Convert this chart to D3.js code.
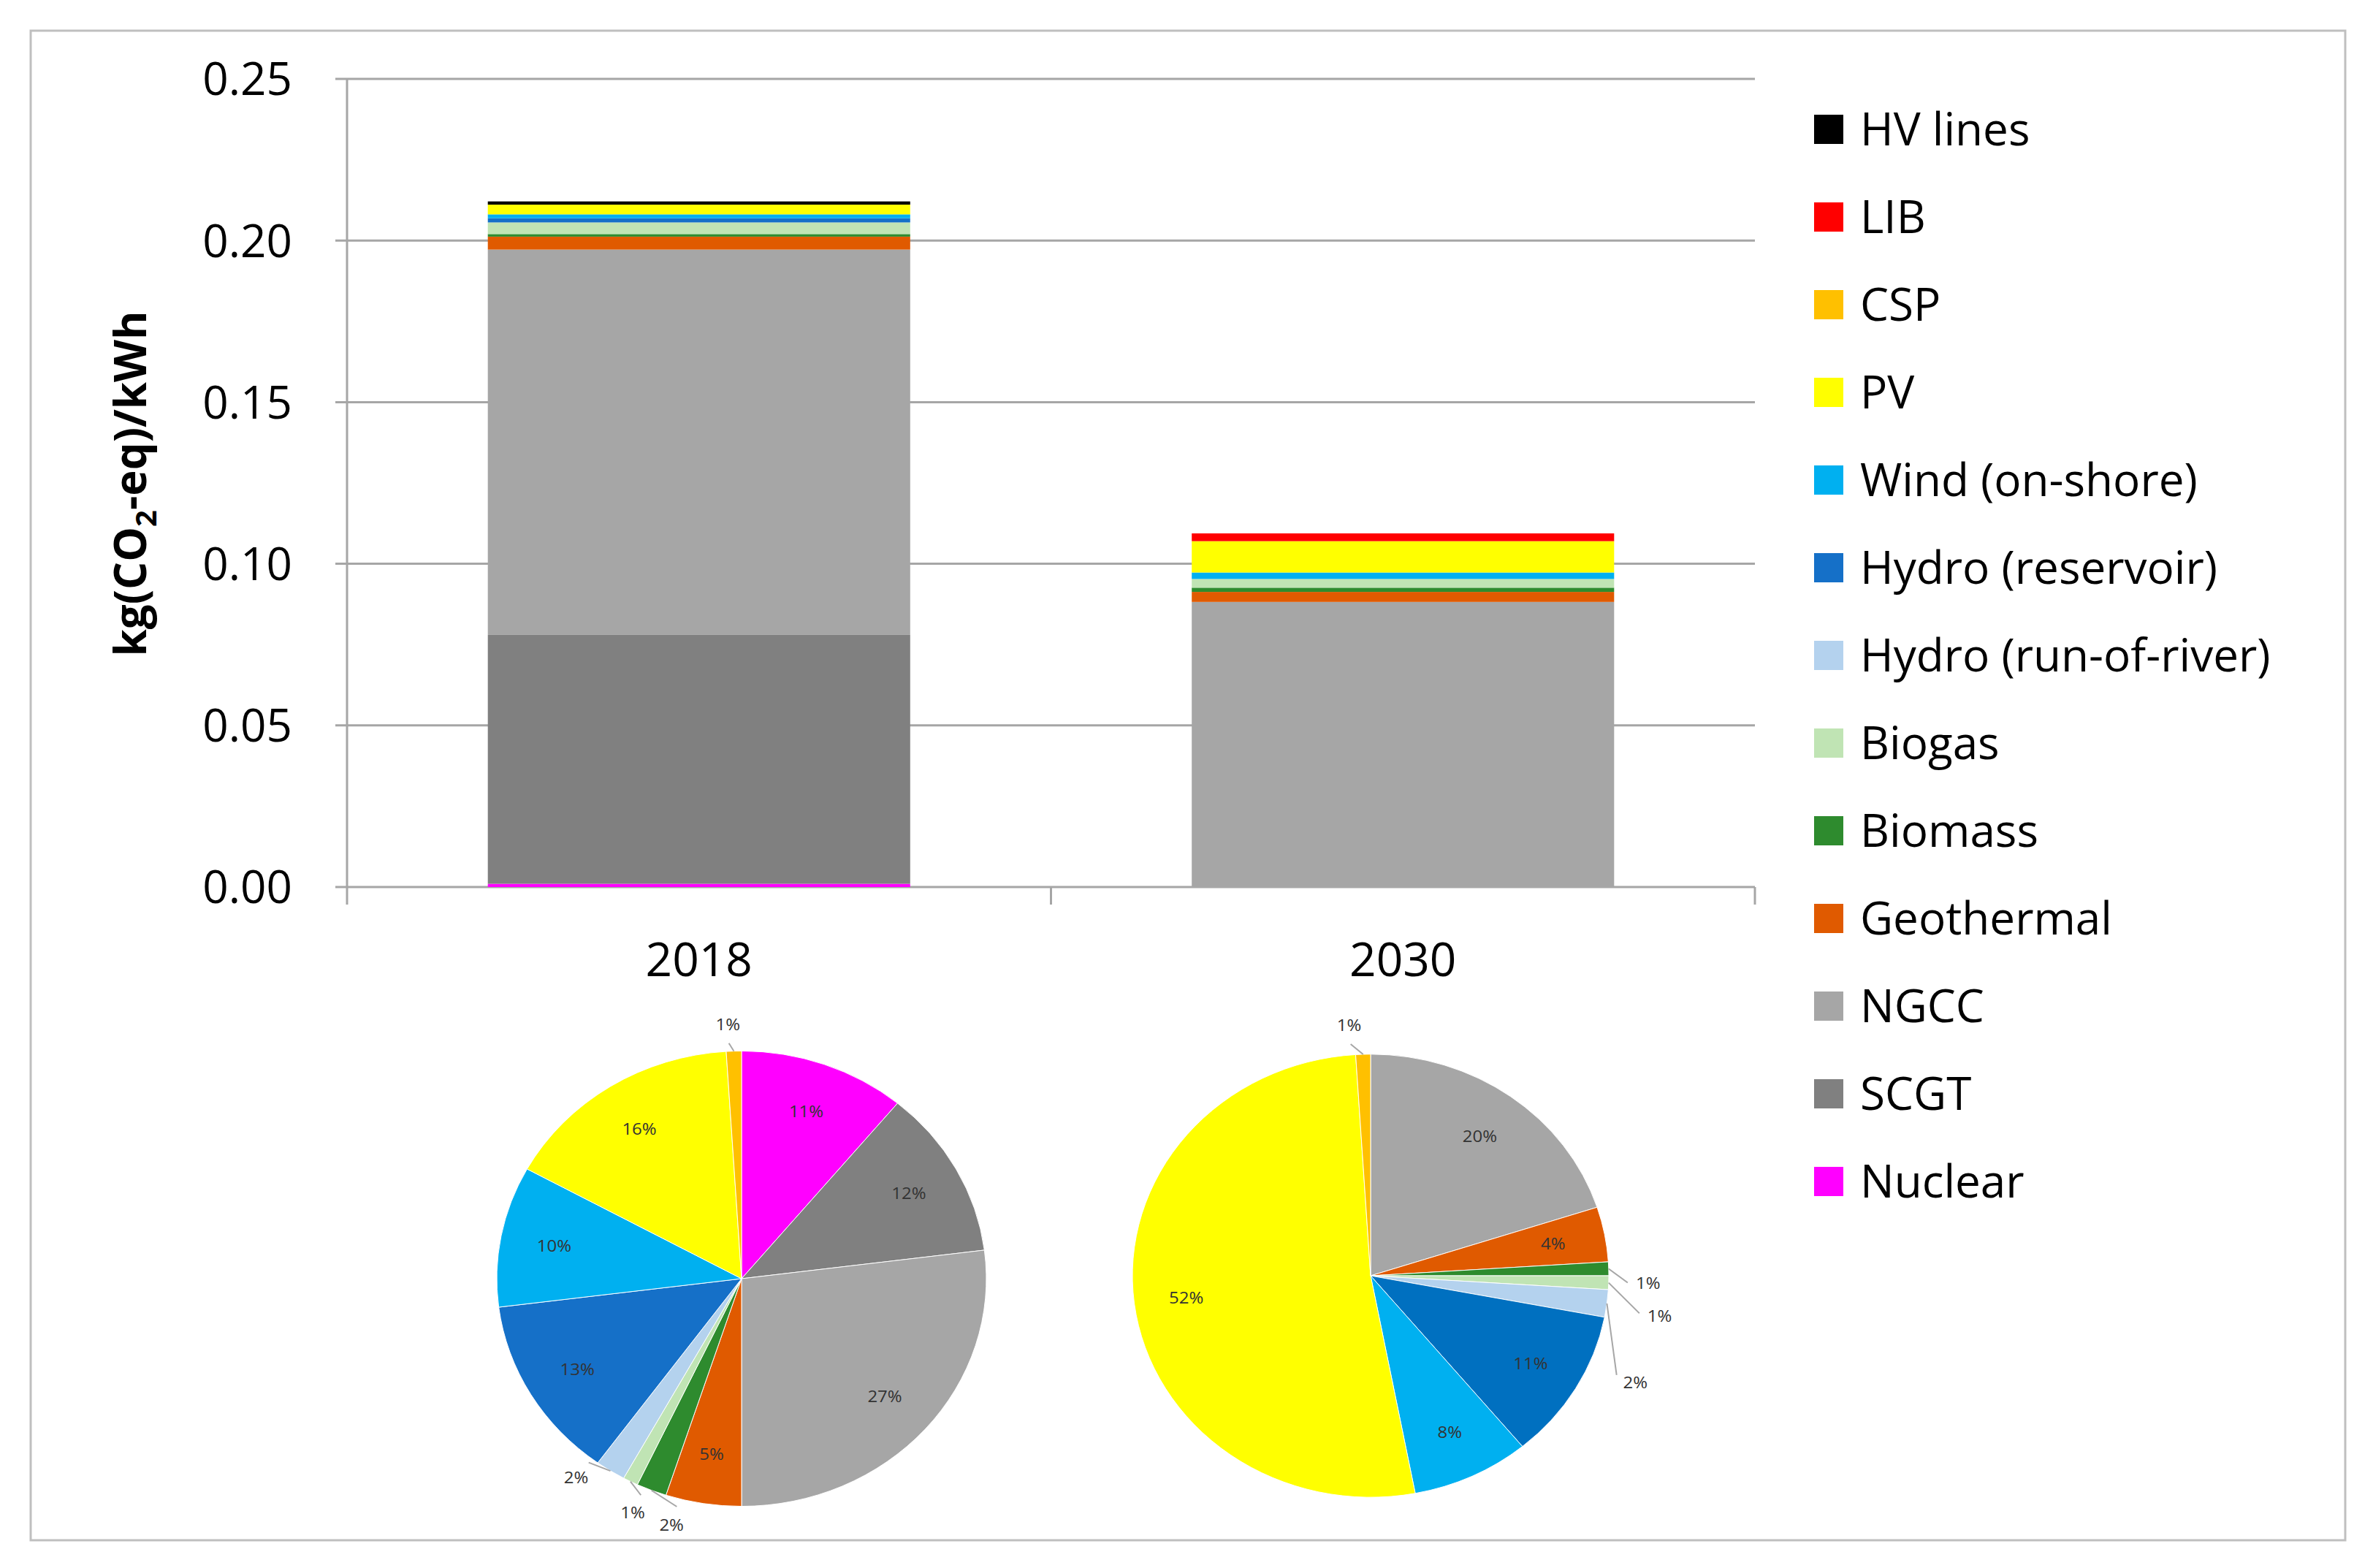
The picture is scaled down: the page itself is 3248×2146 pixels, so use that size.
<!DOCTYPE html>
<html>
<head>
<meta charset="utf-8">
<script src="https://cdn.jsdelivr.net/npm/d3@7"></script>
<style>
  body { margin: 0; background: #fff; }
  text { font-family: "Open Sans", sans-serif; }
</style>
</head>
<body>
<svg id="chart"></svg>
<script>
// data
const years = ["2018", "2030"];
const techs = ["Nuclear", "SCGT", "NGCC", "Geothermal", "Biomass", "Biogas", "Hydro (run-of-river)",
  "Hydro (reservoir)", "Wind (on-shore)", "PV", "CSP", "LIB", "HV lines"];
const colors = ["#ff00ff", "#808080", "#a6a6a6", "#e05a00", "#2e8b2e", "#c0e4b4", "#b4d2ee",
  "#1570c8", "#00b0f0", "#ffff00", "#ffc000", "#ff0000", "#000000"];
const em2018 = [0.001, 0.077, 0.1192, 0.004, 0.0008, 0.0036, 0, 0.0013, 0.0012, 0.003, 0, 0, 0.001];
const em2030 = [0, 0, 0.0882, 0.0031, 0.0013, 0.0027, 0, 0, 0.002, 0.0097, 0, 0.0024, 0];
const yTicks = [0, 0.05, 0.10, 0.15, 0.20, 0.25];

// generation share pies (clockwise from top)
const pie2018 = [
  { t: "Nuclear", v: 11 }, { t: "SCGT", v: 12 }, { t: "NGCC", v: 27 }, { t: "Geothermal", v: 5 },
  { t: "Biomass", v: 2 }, { t: "Biogas", v: 1 }, { t: "Hydro (run-of-river)", v: 2 },
  { t: "Hydro (reservoir)", v: 13 }, { t: "Wind (on-shore)", v: 10 }, { t: "PV", v: 16 }, { t: "CSP", v: 1 }
];
const pie2030 = [
  { t: "NGCC", v: 20 }, { t: "Geothermal", v: 4 }, { t: "Biomass", v: 1 }, { t: "Biogas", v: 1 },
  { t: "Hydro (run-of-river)", v: 2 }, { t: "Hydro (reservoir)", v: 11 }, { t: "Wind (on-shore)", v: 8 },
  { t: "PV", v: 52 }, { t: "CSP", v: 1 }
];

const W = 3248, H = 2146;
const svg = d3.select("#chart").attr("width", W).attr("height", H);

svg.append("rect").attr("x", 42).attr("y", 42).attr("width", 3168).attr("height", 2066)
  .attr("fill", "#fff").attr("stroke", "#bfbfbf").attr("stroke-width", 3);

const pLeft = 475, pRight = 2402, pTop = 108, pBottom = 1214;
const x = d3.scaleBand().domain(years).range([pLeft, pRight]).paddingInner(0.4).paddingOuter(0.2);
const y = d3.scaleLinear().domain([0, 0.25]).range([pBottom, pTop]);

// grid
svg.append("g").selectAll("line").data(yTicks).join("line")
  .attr("x1", pLeft - 16).attr("x2", pRight).attr("y1", d => y(d)).attr("y2", d => y(d))
  .attr("stroke", "#a6a6a6").attr("stroke-width", 3);
svg.append("line").attr("x1", pLeft).attr("x2", pLeft).attr("y1", pTop).attr("y2", pBottom)
  .attr("stroke", "#a6a6a6").attr("stroke-width", 3);
svg.append("g").selectAll("line").data([pLeft, (pLeft + pRight) / 2, pRight]).join("line")
  .attr("x1", d => d).attr("x2", d => d).attr("y1", pBottom).attr("y2", pBottom + 24)
  .attr("stroke", "#a6a6a6").attr("stroke-width", 3);

svg.append("g").selectAll("text").data(yTicks).join("text")
  .attr("x", 400).attr("y", d => y(d)).attr("dy", "0.36em").attr("text-anchor", "end")
  .attr("font-size", 62).attr("fill", "#000").text(d => d.toFixed(2));

const ttl = svg.append("text").attr("transform", "translate(200,662) rotate(-90)")
  .attr("text-anchor", "middle").attr("font-size", 60).attr("font-weight", "bold");
ttl.append("tspan").text("kg(CO");
ttl.append("tspan").attr("font-size", 40).attr("dy", 14).text("2");
ttl.append("tspan").attr("dy", -14).text("-eq)/kWh");

svg.append("g").selectAll("text").data(years).join("text")
  .attr("x", d => x(d) + x.bandwidth() / 2).attr("y", 1336).attr("text-anchor", "middle")
  .attr("font-size", 64).text(d => d);

// stacked bars
const rows = years.map((yr, i) => {
  const vals = i === 0 ? em2018 : em2030;
  const r = { year: yr };
  techs.forEach((t, j) => r[t] = vals[j]);
  return r;
});
const series = d3.stack().keys(techs)(rows);
svg.append("g").selectAll("g").data(series).join("g")
  .attr("fill", (d, i) => colors[i])
  .selectAll("rect").data(d => d).join("rect")
  .attr("x", d => x(d.data.year)).attr("width", x.bandwidth())
  .attr("y", d => y(d[1])).attr("height", d => y(d[0]) - y(d[1]));

// legend
const legendOrder = techs.slice().reverse();
const lg = svg.append("g").selectAll("g").data(legendOrder).join("g")
  .attr("transform", (d, i) => `translate(2483,${177 + i * 120})`);
lg.append("rect").attr("x", 0).attr("y", -20).attr("width", 40).attr("height", 40)
  .attr("fill", d => colors[techs.indexOf(d)]);
lg.append("text").attr("x", 63).attr("dy", "0.36em").attr("font-size", 62).text(d => d);

// pies
const colorOf = t => colors[techs.indexOf(t)];
function drawPie(data, cx, cy, r, fillOverride, outside) {
  const g = svg.append("g").attr("transform", `translate(${cx},${cy}) scale(1,0.93)`);
  const arcs = d3.pie().sort(null).value(d => d.v)(data);
  const arc = d3.arc().innerRadius(0).outerRadius(r);
  g.selectAll("path").data(arcs).join("path")
    .attr("d", arc).attr("fill", d => (fillOverride[d.data.t] || colorOf(d.data.t)))
    .attr("stroke", "#fff").attr("stroke-width", 1);
  arcs.forEach((a, i) => {
    const o = outside[i];
    const mid = (a.startAngle + a.endAngle) / 2;
    const lr = o ? o.r : r * 0.78;
    const ang = o && o.a !== undefined ? o.a : mid;
    const lx = Math.sin(ang) * lr, ly = -Math.cos(ang) * lr;
    if (o) {
      g.append("polyline").attr("fill", "none").attr("stroke", "#a6a6a6").attr("stroke-width", 2)
        .attr("points", [[Math.sin(mid) * r, -Math.cos(mid) * r],
          [Math.sin(ang) * (lr - 28), -Math.cos(ang) * (lr - 28)]].join(" "));
    }
    g.append("text").attr("x", lx).attr("y", ly).attr("dy", "0.36em")
      .attr("text-anchor", "middle").attr("font-size", 24).attr("fill", "#333").text(a.data.v + "%");
  });
}
drawPie(pie2018, 1015, 1750, 335, {}, {
  4: { r: 375, a: 3.40 }, 5: { r: 375, a: 3.55 }, 6: { r: 370, a: 3.80 }, 10: { r: 375, a: -0.05 }
});
drawPie(pie2030, 1876, 1746, 326, { "Hydro (reservoir)": "#0070c0" }, {
  2: { r: 380, a: 1.60 }, 3: { r: 400, a: 1.72 }, 4: { r: 395, a: 1.98 }, 8: { r: 370, a: -0.08 }
});
</script>
</body>
</html>
